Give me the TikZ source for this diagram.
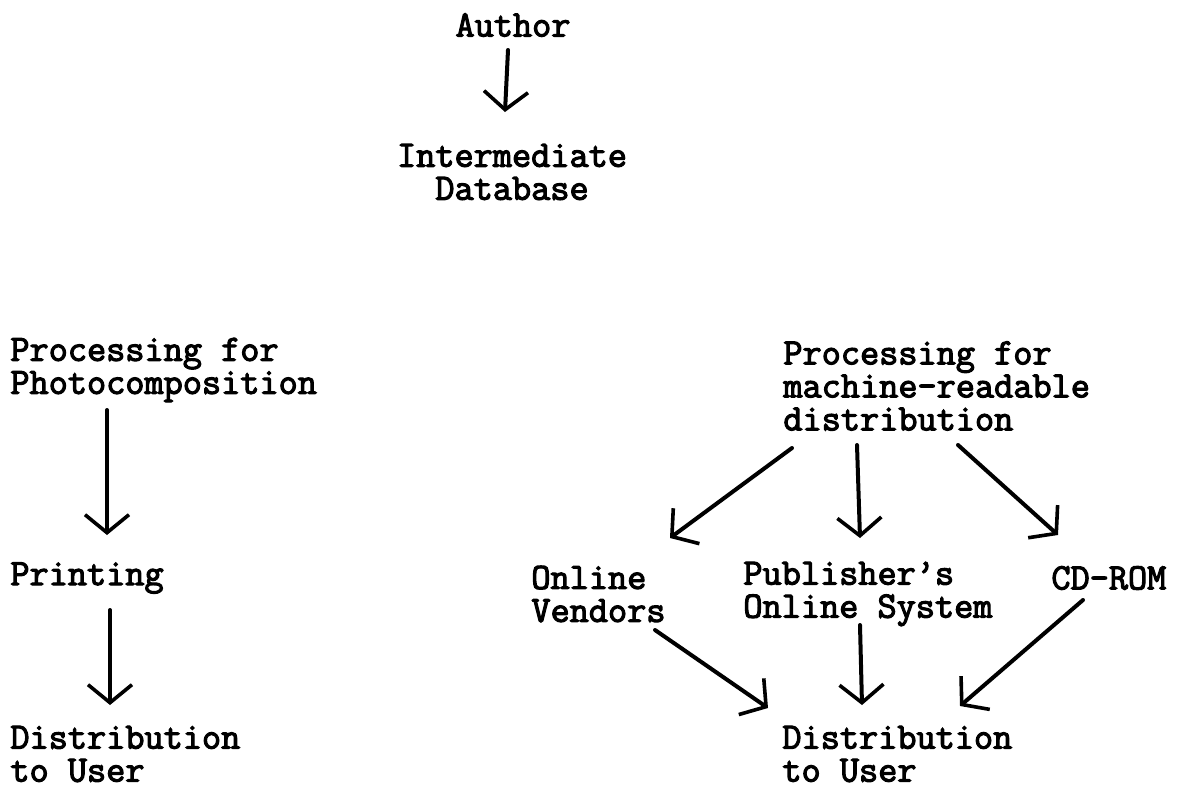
\documentclass[tikz,border=0pt]{standalone}
\usepackage{fontspec}
\usetikzlibrary{arrows.meta,calc}
\newfontfamily\flowtt{Latin Modern Mono}[FakeBold=3]
\newcommand\flowfont{\fontsize{18.6}{16.5}\selectfont\flowtt\lineskiplimit=-20pt\relax}

\begin{document}
\begin{tikzpicture}
		[x=0.5pt,y=-0.5pt,
			every node/.style={font=\flowfont,inner sep=0pt},
			lbl/.style={anchor=west,align=left},
			arr/.style={line width=2pt,line cap=round,-{Straight Barb[length=9pt,width=22pt,line width=1.8pt]}}]
		\useasboundingbox (0,0) rectangle (1189,788);
		\node (author) at (513,25) {Author};
		\node[align=center] (idb) at (512,172) {Intermediate\\Database};
		\node[lbl] (photo) at (10,370) {Processing for\\Photocomposition};
		\node[lbl] (print) at (10,578) {Printing};
		\node[lbl] (distL) at (10,754) {Distribution\\to User};
		\node[lbl] (mrd) at (783,386) {Processing for\\machine-readable\\distribution};
		\node[lbl] (vend) at (531,594) {Online\\Vendors};
		\node[lbl] (pub) at (743,594) {Publisher’s\\Online System};
		\node[lbl] (cd) at (1051,578) {CD-ROM};
		\node[lbl] (distR) at (782,754) {Distribution\\to User};
		\draw[arr] ($(author)+(-5,25)$) -- ($(idb)+(-7,-60)$);
		\draw[arr] ($(photo.west)+(97,40)$) -- ($(print.west)+(97,-43)$);
		\draw[arr] ($(print.west)+(100,32)$) -- ($(distL.west)+(100,-49)$);
		\draw[arr] ($(mrd.west)+(9,62)$) -- ($(vend.west)+(139,-56)$);
		\draw[arr] ($(mrd.west)+(74,59)$) -- ($(pub.west)+(117,-56)$);
		\draw[arr] ($(mrd.west)+(175,59)$) -- ($(cd.west)+(7,-43)$);
		\draw[arr] ($(vend.west)+(124,36)$) -- ($(distR.west)+(-14,-46)$);
		\draw[arr] ($(pub.west)+(117,31)$) -- ($(distR.west)+(80,-49)$);
		\draw[arr] ($(cd.west)+(32,22)$) -- ($(distR.west)+(178,-48)$);
	\end{tikzpicture}
\end{document}
